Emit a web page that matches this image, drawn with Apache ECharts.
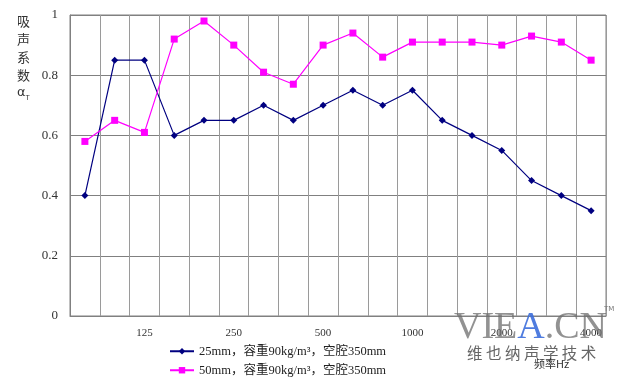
<!DOCTYPE html>
<html><head><meta charset="utf-8">
<script src="https://cdn.jsdelivr.net/npm/echarts@6/dist/echarts.min.js"></script>
<style>html,body{margin:0;padding:0;background:#fff}#c{width:618px;height:381px}</style>
</head><body><div id="c"></div>
<script>
const categories = ['80','100','125','160','200','250','315','400','500','630','800','1000','1250','1600','2000','2500','3150','4000'];
const series25 = [0.40,0.85,0.85,0.60,0.65,0.65,0.70,0.65,0.70,0.75,0.70,0.75,0.65,0.60,0.55,0.45,0.40,0.35];
const series50 = [0.58,0.65,0.61,0.92,0.98,0.90,0.81,0.77,0.90,0.94,0.86,0.91,0.91,0.91,0.90,0.93,0.91,0.85];
const name25 = '25mm，容重90kg/m³，空腔350mm';
const name50 = '50mm，容重90kg/m³，空腔350mm';
const yTicks = ['0','0.2','0.4','0.6','0.8','1'];

const font = '"Liberation Serif","Noto Sans CJK SC",serif';
const chart = echarts.init(document.getElementById('c'), null, {renderer:'canvas'});
chart.setOption({
  animation:false,
  backgroundColor:'#fff',
  grid:{left:70,right:12,top:15,bottom:65,show:true,borderColor:'#808080',borderWidth:1},
  xAxis:{
    type:'category', data:categories, boundaryGap:true,
    axisLine:{lineStyle:{color:'#808080'}},
    axisTick:{show:false},
    splitLine:{show:true,interval:0,lineStyle:{color:'#9a9a9a',width:1}},
    axisLabel:{interval:function(i){return i%3===2;},margin:12,color:'#333',fontSize:11,fontFamily:font}
  },
  yAxis:{
    type:'value', min:0, max:1, interval:0.2,
    axisLine:{show:true,lineStyle:{color:'#808080'}},
    axisTick:{show:false},
    splitLine:{lineStyle:{color:'#808080'}},
    axisLabel:{margin:12,color:'#333',fontSize:13,fontFamily:font,
      formatter:function(v){return yTicks[Math.round(v/0.2)];}}
  },
  legend:[
    {left:169, top:345, padding:0, itemWidth:24, itemHeight:8, itemGap:4,
     textStyle:{fontSize:12.5,color:'#222',fontFamily:font}, data:[name25]},
    {left:169, top:364, padding:0, itemWidth:24, itemHeight:8, itemGap:4,
     textStyle:{fontSize:12.5,color:'#222',fontFamily:font}, data:[name50]}
  ],
  series:[
    {name:name25,type:'line',data:series25,symbol:'diamond',symbolSize:7,
     lineStyle:{color:'#000080',width:1.2},itemStyle:{color:'#000080'}},
    {name:name50,type:'line',data:series50,symbol:'rect',symbolSize:7,
     lineStyle:{color:'#ff00ff',width:1.2},itemStyle:{color:'#ff00ff'}}
  ],
  graphic:[
    {type:'text',left:17,top:12,style:{
      text:'吸\n声\n系\n数\n{a|α}{t|T}',
      font:'13px "Noto Sans CJK SC"',fill:'#333',lineHeight:18,
      rich:{a:{fontSize:13,fontFamily:'"DejaVu Sans"',fill:'#333'},t:{fontSize:7,fill:'#333',verticalAlign:'bottom',padding:[6,0,0,0]}}
    }},
    {type:'text',left:454,top:309,z:100,style:{
      text:'VIE{b|A}.CN',
      font:'38px "Liberation Serif"',fill:'rgba(110,110,110,0.75)',
      rich:{b:{fontSize:38,fontFamily:'"Liberation Serif"',fill:'rgba(60,110,220,0.9)'}}
    }},
    {type:'text',left:604,top:306,z:100,style:{text:'TM',font:'7px "DejaVu Sans"',fill:'#777'}},
    {type:'text',left:467,top:345,z:100,style:{text:'维 也 纳 声 学 技 术',font:'15.5px "Noto Sans CJK SC"',fill:'#666'}},
    {type:'text',left:534,top:358,z:101,style:{text:'频率Hz',font:'11px "Noto Sans CJK SC"',fill:'#333'}}
  ]
});
</script></body></html>
